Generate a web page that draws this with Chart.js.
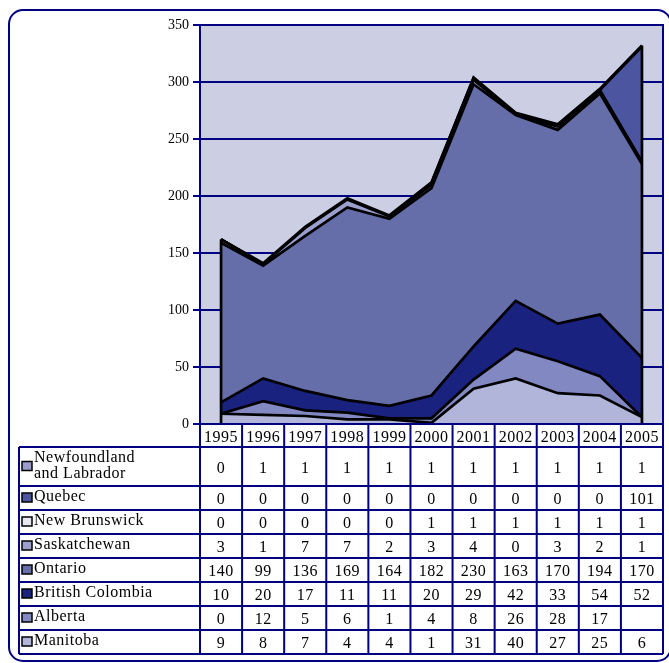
<!DOCTYPE html>
<html>
<head>
<meta charset="utf-8">
<script src="https://cdn.jsdelivr.net/npm/chart.js@4/dist/chart.umd.min.js"></script>
<style>
  html, body { margin: 0; padding: 0; background: #fff; }
  #wrap { position: relative; width: 669px; height: 663px; }
</style>
</head>
<body>
<div id="wrap"><canvas id="chart" width="669" height="663"></canvas></div>
<script>
(function () {
  'use strict';

  var years = ['1995', '1996', '1997', '1998', '1999', '2000', '2001', '2002', '2003', '2004', '2005'];

  // series, bottom of the stack first
  var manitoba     = [9, 8, 7, 4, 4, 1, 31, 40, 27, 25, 6];
  var alberta      = [0, 12, 5, 6, 1, 4, 8, 26, 28, 17, null];
  var britishCol   = [10, 20, 17, 11, 11, 20, 29, 42, 33, 54, 52];
  var ontario      = [140, 99, 136, 169, 164, 182, 230, 163, 170, 194, 170];
  var saskatchewan = [3, 1, 7, 7, 2, 3, 4, 0, 3, 2, 1];
  var newBrunswick = [0, 0, 0, 0, 0, 1, 1, 1, 1, 1, 1];
  var quebec       = [0, 0, 0, 0, 0, 0, 0, 0, 0, 0, 101];
  var newfoundland = [0, 1, 1, 1, 1, 1, 1, 1, 1, 1, 1];

  var yTicks = [0, 50, 100, 150, 200, 250, 300, 350];

  var navy = '#000080';
  var serif = '"Liberation Serif", "DejaVu Serif", serif';

  var series = [
    { label: 'Manitoba',          data: manitoba,     color: '#b1b5d9' },
    { label: 'Alberta',           data: alberta,      color: '#8288c2' },
    { label: 'British Colombia',  data: britishCol,   color: '#1a2280' },
    { label: 'Ontario',           data: ontario,      color: '#666ea9' },
    { label: 'Saskatchewan',      data: saskatchewan, color: '#9b9fcd' },
    { label: 'New Brunswick',     data: newBrunswick, color: '#e8e8f4' },
    { label: 'Quebec',            data: quebec,       color: '#4b55a0' },
    { label: 'Newfoundland\nand Labrador', data: newfoundland, color: '#9a9acb' }
  ];

  var datasets = series.map(function (s, i) {
    return {
      label: s.label,
      data: s.data.map(function (v) { return v == null ? 0 : v; }),
      backgroundColor: s.color,
      borderColor: '#000',
      borderWidth: 2.7,
      pointRadius: 0,
      tension: 0,
      fill: i === 0 ? 'origin' : '-1'
    };
  });

  // plot background and frame
  var plotFrame = {
    id: 'plotFrame',
    beforeDraw: function (chart) {
      var a = chart.chartArea, ctx = chart.ctx;
      ctx.save();
      ctx.fillStyle = '#cccfe4';
      ctx.fillRect(a.left, a.top, a.right - a.left, a.bottom - a.top);
      ctx.restore();
    },
    afterDatasetsDraw: function (chart) {
      var a = chart.chartArea, ctx = chart.ctx;
      var x = chart.scales.x, y = chart.scales.y;
      // side edges of the stacked area
      var last = years.length - 1;
      function total(i) {
        return series.reduce(function (s, d) { return s + (d.data[i] || 0); }, 0);
      }
      ctx.save();
      ctx.strokeStyle = '#000';
      ctx.lineWidth = 2.7;
      [0, last].forEach(function (i) {
        var px = x.getPixelForValue(i);
        ctx.beginPath();
        ctx.moveTo(px, y.getPixelForValue(0));
        ctx.lineTo(px, y.getPixelForValue(total(i)));
        ctx.stroke();
      });
      ctx.strokeStyle = navy;
      ctx.lineWidth = 2;
      ctx.strokeRect(a.left, a.top, a.right - a.left, a.bottom - a.top);
      ctx.restore();
    }
  };

  // data table under the plot, columns follow the category scale
  var dataTable = {
    id: 'dataTable',
    afterDraw: function (chart) {
      var ctx = chart.ctx, a = chart.chartArea, x = chart.scales.x;
      var half = (x.getPixelForValue(1) - x.getPixelForValue(0)) / 2;
      var tableLeft = 19;
      var headTop = a.bottom, headBottom = 447;
      var rowH = [39, 24, 24, 24, 24, 24, 24, 24];
      var rows = series.slice().reverse();

      ctx.save();
      ctx.strokeStyle = navy;
      ctx.lineWidth = 2;
      ctx.fillStyle = '#000';
      ctx.textBaseline = 'middle';
      ctx.letterSpacing = '0.5px';

      // header with years
      ctx.font = '16px ' + serif;
      ctx.textAlign = 'center';
      years.forEach(function (yr, i) {
        var cx = x.getPixelForValue(i);
        ctx.fillText(yr, cx, (headTop + headBottom) / 2 + 2);
      });
      for (var i = 0; i <= years.length; i++) {
        var bx = i < years.length ? x.getPixelForValue(i) - half : x.getPixelForValue(years.length - 1) + half;
        ctx.beginPath();
        ctx.moveTo(bx, headTop);
        ctx.lineTo(bx, headBottom);
        ctx.stroke();
      }

      // body rows
      var top = headBottom;
      var right = x.getPixelForValue(years.length - 1) + half;
      ctx.beginPath();
      ctx.moveTo(tableLeft, top);
      ctx.lineTo(right, top);
      ctx.stroke();
      rows.forEach(function (s, r) {
        var h = rowH[r];
        var mid = top + h / 2;
        // legend key
        var lines = s.label.split('\n');
        var keyY = mid - 5;
        ctx.fillStyle = s.color;
        ctx.fillRect(22, keyY, 10, 9);
        ctx.strokeStyle = '#000';
        ctx.lineWidth = 1.5;
        ctx.strokeRect(22, keyY, 10, 9);
        ctx.fillStyle = '#000';
        ctx.textAlign = 'left';
        ctx.font = '16px ' + serif;
        if (lines.length > 1) {
          ctx.fillText(lines[0], 34, mid - 9);
          ctx.fillText(lines[1], 34, mid + 7);
        } else {
          ctx.fillText(lines[0], 34, mid - 1);
        }
        // values
        ctx.textAlign = 'center';
        s.data.forEach(function (v, i) {
          if (v == null) return;
          ctx.fillText(String(v), x.getPixelForValue(i), mid + 2);
        });
        top += h;
        ctx.strokeStyle = navy;
        ctx.lineWidth = 2;
        ctx.beginPath();
        ctx.moveTo(tableLeft, top);
        ctx.lineTo(right, top);
        ctx.stroke();
      });
      // vertical rules of the body
      ctx.beginPath();
      ctx.moveTo(tableLeft, headBottom);
      ctx.lineTo(tableLeft, top);
      for (var j = 0; j <= years.length; j++) {
        var vx = j < years.length ? x.getPixelForValue(j) - half : right;
        ctx.moveTo(vx, headBottom);
        ctx.lineTo(vx, top);
      }
      ctx.stroke();

      // rounded outer frame
      ctx.lineWidth = 2;
      ctx.beginPath();
      ctx.roundRect(9, 10, 662, 651, 14);
      ctx.stroke();
      ctx.restore();
    }
  };

  new Chart(document.getElementById('chart'), {
    type: 'line',
    data: { labels: years, datasets: datasets },
    plugins: [plotFrame, dataTable],
    options: {
      responsive: false,
      animation: false,
      layout: { padding: { left: 0, right: 6, top: 25, bottom: 239 } },
      plugins: { legend: { display: false }, tooltip: { enabled: false } },
      scales: {
        x: { display: false, offset: true },
        y: {
          stacked: true,
          min: 0,
          max: 350,
          afterBuildTicks: function (s) { s.ticks = yTicks.map(function (v) { return { value: v }; }); },
          afterFit: function (s) { s.width = 200; },
          grid: { color: navy, lineWidth: 2, tickLength: 7, drawTicks: true },
          border: { display: true, color: navy, width: 2 },
          ticks: { color: '#000', font: { family: serif, size: 14 }, padding: 4 }
        }
      }
    }
  });
})();
</script>
</body>
</html>
